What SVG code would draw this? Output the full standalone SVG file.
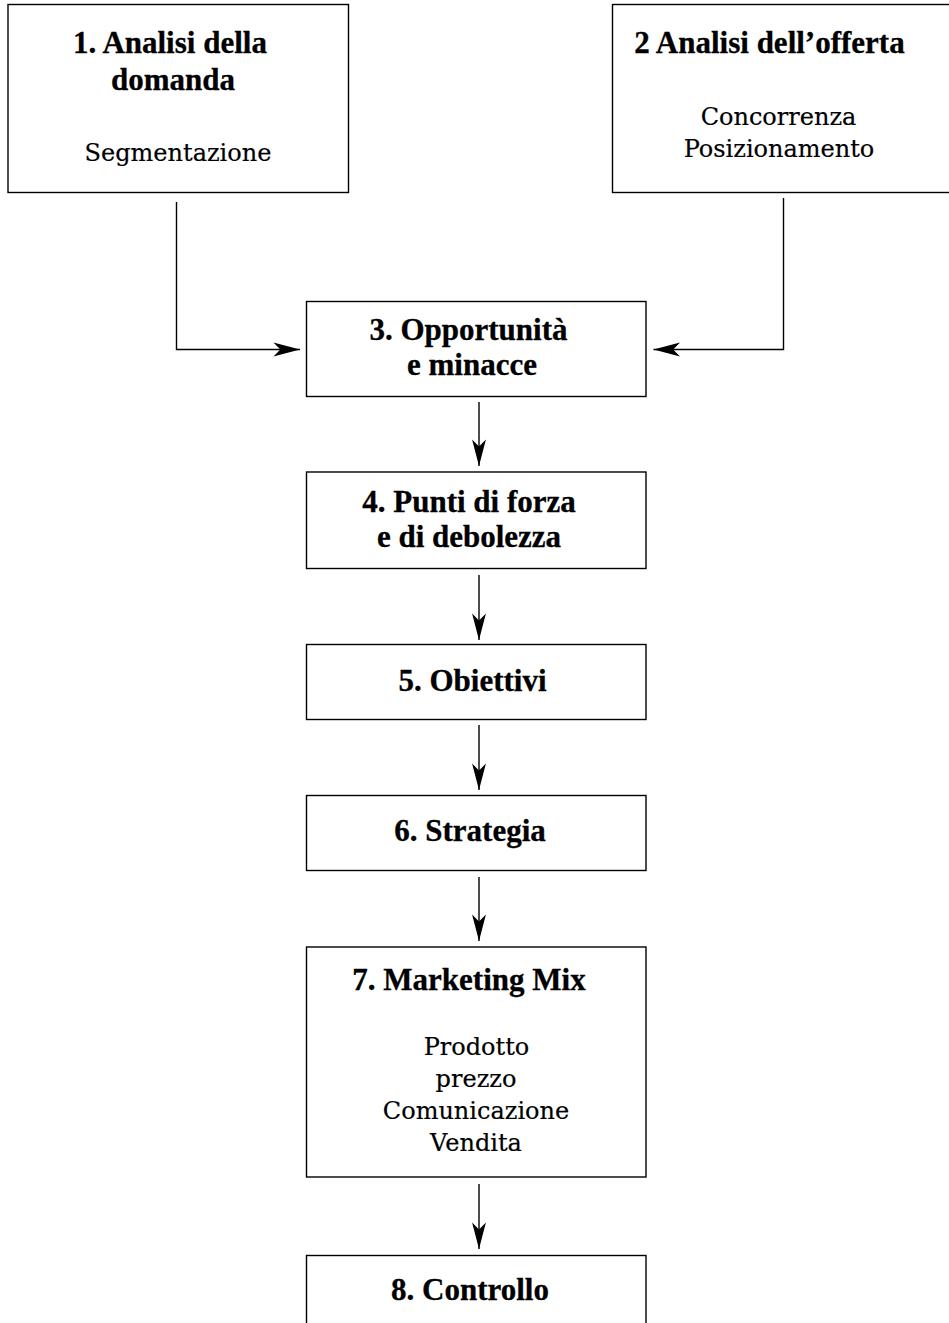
<svg xmlns="http://www.w3.org/2000/svg" width="949" height="1323" viewBox="0 0 949 1323">
<style>
.box{fill:#fff;stroke:#000;stroke-width:1.4}
.b{font-family:"Liberation Serif",serif;font-weight:bold;font-size:31px;fill:#000;stroke:#000;stroke-width:0.3;text-anchor:middle}
.r{font-family:"DejaVu Serif",serif;font-size:24px;fill:#000;stroke:#000;stroke-width:0.2;text-anchor:middle}
.c{fill:none;stroke:#000;stroke-width:1.4}
</style>
<defs>
<marker id="ah" markerUnits="userSpaceOnUse" markerWidth="30" markerHeight="20" viewBox="-24 -8 26 16" refX="0" refY="0" orient="auto">
<path d="M0,0 L-23,-6 L-17,0 L-23,6 Z" fill="#000"/>
</marker>
</defs>
<rect width="949" height="1323" fill="#fff"/>
<g id="connectors">
<path class="c" d="M176.5,202 L176.5,349.5 L300,349.5" marker-end="url(#ah)"/>
<path class="c" d="M783.5,198 L783.5,349.5 L653.5,349.5" marker-end="url(#ah)"/>
<path class="c" d="M479,402 L479,466" marker-end="url(#ah)"/>
<path class="c" d="M479,575 L479,640" marker-end="url(#ah)"/>
<path class="c" d="M479,725 L479,790" marker-end="url(#ah)"/>
<path class="c" d="M479,877 L479,941" marker-end="url(#ah)"/>
<path class="c" d="M479,1184 L479,1249" marker-end="url(#ah)"/>
</g>
<g id="n1">
<rect class="box" x="8" y="4.5" width="340.5" height="188"/>
<text class="b" x="170" y="53">1. Analisi della</text>
<text class="b" x="173" y="90">domanda</text>
<text class="r" x="178" y="161">Segmentazione</text>
</g>
<g id="n2">
<rect class="box" x="612.5" y="4.5" width="345" height="188"/>
<text class="b" x="769.5" y="53">2 Analisi dell’offerta</text>
<text class="r" x="778.5" y="125">Concorrenza</text>
<text class="r" x="779" y="157">Posizionamento</text>
</g>
<g id="n3">
<rect class="box" x="306.5" y="301.5" width="339.5" height="95"/>
<text class="b" x="468.5" y="340">3. Opportunità</text>
<text class="b" x="472" y="375">e minacce</text>
</g>
<g id="n4">
<rect class="box" x="306.5" y="472" width="339.5" height="96.5"/>
<text class="b" x="469" y="511.5">4. Punti di forza</text>
<text class="b" x="469" y="546.5">e di debolezza</text>
</g>
<g id="n5">
<rect class="box" x="306.5" y="644.5" width="339.5" height="75"/>
<text class="b" x="472.5" y="691">5. Obiettivi</text>
</g>
<g id="n6">
<rect class="box" x="306.5" y="795.5" width="339.5" height="75"/>
<text class="b" x="470" y="841">6. Strategia</text>
</g>
<g id="n7">
<rect class="box" x="306.5" y="947" width="339.5" height="230"/>
<text class="b" x="469" y="990">7. Marketing Mix</text>
<text class="r" x="476.5" y="1055">Prodotto</text>
<text class="r" x="476" y="1087">prezzo</text>
<text class="r" x="476" y="1119">Comunicazione</text>
<text class="r" x="476" y="1151">Vendita</text>
</g>
<g id="n8">
<rect class="box" x="306.5" y="1255.5" width="339.5" height="90"/>
<text class="b" x="470" y="1300">8. Controllo</text>
</g>
</svg>
